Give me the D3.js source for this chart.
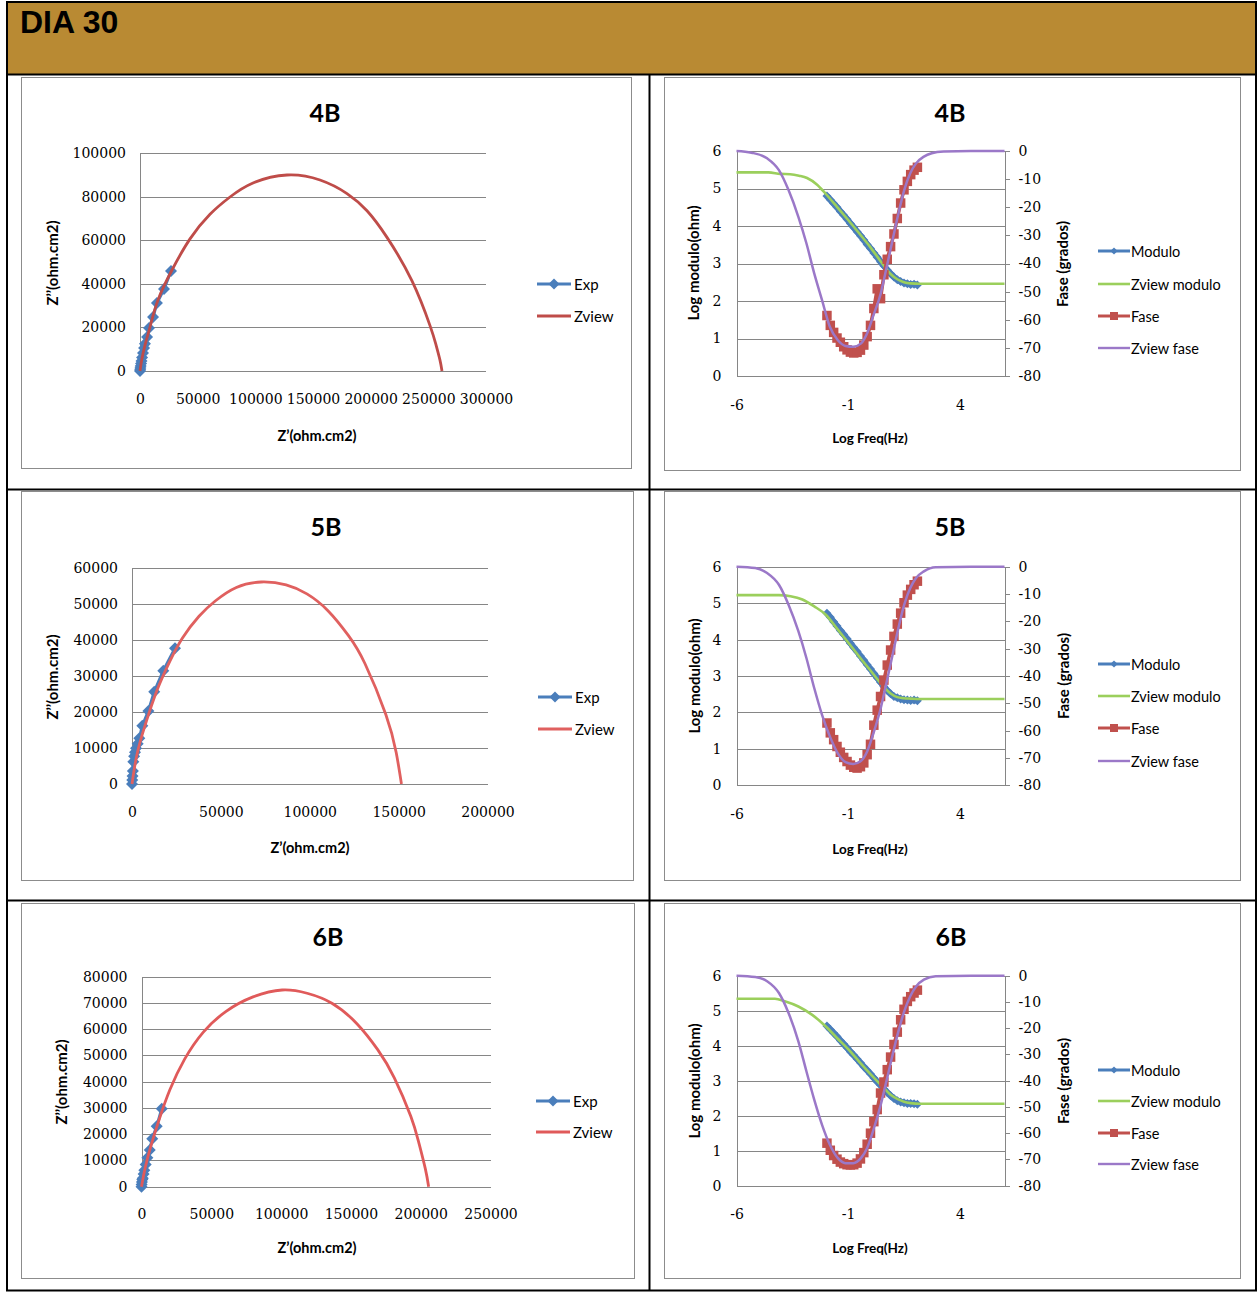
<!DOCTYPE html>
<html>
<head>
<meta charset="utf-8">
<script src="https://cdn.jsdelivr.net/npm/d3@7"></script>
<style>
  body { margin: 0; background: #fff; }
  svg text { fill: #000; }
</style>
</head>
<body>
<svg id="page" width="1258" height="1292"></svg>
<script>
// ---------------- data ----------------
const pageTitle = "DIA 30";
const panelTitles = ["4B", "5B", "6B"];
const nyqSeriesNames = ["Exp", "Zview"];
const bodeSeriesNames = ["Modulo", "Zview modulo", "Fase", "Zview fase"];

// Nyquist axis ticks
const yTicksZ4B = [0, 20000, 40000, 60000, 80000, 100000];
const xTicksZ4B = [0, 50000, 100000, 150000, 200000, 250000, 300000];
const yTicksZ5B = [0, 10000, 20000, 30000, 40000, 50000, 60000];
const xTicksZ5B = [0, 50000, 100000, 150000, 200000];
const yTicksZ6B = [0, 10000, 20000, 30000, 40000, 50000, 60000, 70000, 80000];
const xTicksZ6B = [0, 50000, 100000, 150000, 200000, 250000];

// Bode axis ticks
const modTicks = [0, 1, 2, 3, 4, 5, 6];
const faseTicks = [0, -10, -20, -30, -40, -50, -60, -70, -80];
const freqTicks = [-6, -1, 4];

// 4B – Nyquist (Z', Z'')
const z4B_expRe = [0, 150, 350, 600, 900, 1300, 1800, 2600, 3500, 4300, 6100, 7800, 11300, 14700, 20800, 26900];
const z4B_expIm = [0, 600, 1400, 2300, 3400, 4600, 6200, 8300, 10500, 12500, 15600, 19700, 24800, 31200, 37600, 45900];
const z4B_fitRe = [0, 1470, 4340, 8670, 15600, 27750, 43350, 60690, 78030, 97980, 127460, 156070, 179480, 196820, 214160, 235840, 251450, 256500, 260000, 261850];
const z4B_fitIm = [0, 5050, 11900, 20180, 32570, 46330, 60600, 71900, 79820, 86240, 89910, 87610, 81400, 73500, 61300, 41300, 20800, 12300, 5200, 0];

// 5B – Nyquist
const z5B_expRe = [0, 150, 300, 500, 740, 1200, 1700, 2250, 3200, 4100, 5800, 9200, 12500, 17600, 24200];
const z5B_expIm = [0, 1100, 2200, 3600, 6190, 7700, 8800, 9920, 11200, 12690, 16190, 20280, 25640, 31470, 37700];
const z5B_fitRe = [0, 2700, 7300, 14300, 21400, 28300, 37700, 47000, 58700, 72700, 86700, 98400, 110100, 121800, 131100, 142800, 148600, 151600];
const z5B_fitIm = [0, 8000, 16200, 26300, 34200, 40500, 46600, 50900, 54600, 56110, 55300, 52800, 48200, 41200, 33400, 19300, 8800, 0];

// 6B – Nyquist
const z6B_expRe = [0, 100, 300, 600, 900, 1500, 2000, 3000, 4200, 5900, 7700, 10900, 14500];
const z6B_expIm = [0, 800, 1800, 2700, 3200, 4800, 6300, 8500, 11000, 14000, 18300, 23000, 29700];
const z6B_fitRe = [0, 2600, 7000, 13000, 20400, 30800, 44300, 60600, 79900, 100700, 118600, 136400, 154300, 169200, 181100, 192900, 198500, 203300, 205700];
const z6B_fitIm = [0, 7120, 16000, 26170, 37000, 48500, 58900, 66800, 72300, 74930, 73700, 69900, 62100, 52200, 41500, 26800, 17100, 6900, 0];

// measured log frequencies (shared by the three samples)
const logFreqMeas = [-1.95, -1.8, -1.65, -1.5, -1.35, -1.2, -1.05, -0.9, -0.75, -0.6, -0.45, -0.3, -0.15, 0, 0.15, 0.3, 0.45, 0.6, 0.75, 0.9, 1.05, 1.2, 1.35, 1.5, 1.65, 1.8, 1.95, 2.1];

// 4B – Bode
const mod4B = [4.80, 4.70, 4.60, 4.50, 4.39, 4.29, 4.18, 4.07, 3.96, 3.85, 3.74, 3.63, 3.51, 3.40, 3.28, 3.17, 3.05, 2.94, 2.83, 2.73, 2.64, 2.57, 2.52, 2.48, 2.46, 2.44, 2.45, 2.43];
const fase4B = [-58.5, -62.0, -64.5, -66.5, -68.0, -69.6, -70.7, -71.5, -71.8, -71.6, -70.8, -69.0, -66.0, -62.0, -56.0, -49.0, -52.5, -44.0, -38.5, -34.0, -29.5, -24.0, -18.5, -13.8, -10.8, -8.4, -6.8, -5.8];
const zmodFreq4B = [-6, -5.5, -5, -4.57, -4.04, -3.6, -3.2, -2.84, -2.39, -2.01, -1.5, -1.0, -0.5, 0, 0.5, 0.9, 1.2, 1.5, 1.8, 2.2, 3, 4, 5, 6];
const zmod4B = [5.43, 5.43, 5.43, 5.43, 5.39, 5.38, 5.34, 5.28, 5.10, 4.86, 4.51, 4.16, 3.80, 3.43, 3.02, 2.72, 2.58, 2.50, 2.47, 2.46, 2.46, 2.46, 2.46, 2.46];
const zfaseFreq4B = [-6, -5.33, -4.63, -4.10, -3.67, -3.23, -2.87, -2.52, -2.17, -1.82, -1.47, -1.12, -0.77, -0.42, -0.15, 0.11, 0.46, 0.73, 0.99, 1.25, 1.51, 1.78, 2.04, 2.39, 2.74, 3.27, 4.5, 6];
const zfase4B = [0, -0.6, -2.6, -6.8, -13.9, -23.4, -32.8, -43.5, -53.0, -62.5, -67.2, -69.3, -69.6, -68.4, -64.8, -58.9, -50.6, -41.1, -31.6, -22.2, -13.9, -7.9, -4.4, -2.0, -0.8, -0.2, 0, 0];

// 5B – Bode
const mod5B = [4.72, 4.61, 4.49, 4.37, 4.25, 4.14, 4.02, 3.90, 3.78, 3.67, 3.55, 3.43, 3.31, 3.19, 3.07, 2.95, 2.83, 2.71, 2.60, 2.51, 2.44, 2.40, 2.37, 2.35, 2.34, 2.33, 2.34, 2.32];
const fase5B = [-57.2, -60.8, -63.3, -65.8, -67.9, -69.8, -71.3, -72.6, -73.4, -73.7, -73.2, -71.8, -68.8, -65.0, -58.0, -52.5, -47.5, -41.5, -36.0, -30.5, -25.5, -21.0, -17.0, -13.2, -10.4, -8.3, -6.6, -5.3];
const zmodFreq5B = [-6, -5, -4.1, -3.58, -3.05, -2.52, -2.0, -1.5, -1.0, -0.5, 0, 0.5, 0.9, 1.2, 1.5, 1.8, 2.2, 3, 4, 5, 6];
const zmod5B = [5.22, 5.22, 5.22, 5.19, 5.10, 4.91, 4.68, 4.30, 3.92, 3.53, 3.15, 2.77, 2.52, 2.42, 2.39, 2.38, 2.37, 2.37, 2.37, 2.37, 2.37];
const zfaseFreq5B = [-6, -5.16, -4.63, -4.10, -3.67, -3.23, -2.87, -2.52, -2.17, -1.82, -1.47, -1.12, -0.77, -0.42, -0.15, 0.11, 0.46, 0.73, 0.99, 1.25, 1.51, 1.78, 2.04, 2.39, 2.92, 4.5, 6];
const zfase5B = [0, -0.5, -2.3, -6.6, -13.9, -23.6, -33.4, -44.4, -54.2, -62.1, -68.2, -71.5, -72.2, -71.0, -67.6, -61.5, -51.7, -41.9, -32.2, -22.4, -13.9, -7.8, -4.1, -1.7, -0.2, 0, 0];

// 6B – Bode
const mod6B = [4.56, 4.46, 4.36, 4.26, 4.15, 4.05, 3.94, 3.83, 3.73, 3.62, 3.51, 3.40, 3.30, 3.19, 3.08, 2.97, 2.87, 2.76, 2.66, 2.57, 2.49, 2.43, 2.39, 2.37, 2.35, 2.35, 2.34, 2.33];
const fase6B = [-63.8, -66.5, -68.5, -69.9, -71.0, -71.6, -72.0, -72.1, -72.0, -71.4, -69.8, -67.4, -64.2, -60.0, -55.6, -51.0, -44.7, -40.5, -35.8, -31.0, -26.2, -21.5, -16.8, -12.8, -9.8, -8.0, -6.6, -5.5];
const zmodFreq6B = [-6, -5, -4.28, -3.84, -3.23, -2.61, -2.0, -1.5, -1.0, -0.5, 0, 0.5, 0.9, 1.2, 1.5, 1.8, 2.2, 3, 4, 5, 6];
const zmod6B = [5.34, 5.34, 5.34, 5.27, 5.12, 4.88, 4.55, 4.22, 3.90, 3.54, 3.19, 2.86, 2.60, 2.48, 2.40, 2.36, 2.34, 2.34, 2.34, 2.34, 2.34];
const zfaseFreq6B = [-6, -5.16, -4.63, -4.10, -3.67, -3.23, -2.87, -2.52, -2.17, -1.82, -1.47, -1.12, -0.77, -0.42, -0.15, 0.11, 0.46, 0.73, 0.99, 1.25, 1.51, 1.78, 2.04, 2.39, 2.92, 4.5, 6];
const zfase6B = [0, -0.5, -2.1, -6.6, -14.2, -25.0, -36.4, -47.2, -56.8, -64.4, -69.4, -71.4, -71.4, -69.4, -65.6, -59.3, -49.1, -39.6, -30.1, -21.2, -13.6, -7.8, -4.1, -1.5, -0.2, 0, 0];

// ---------------- styles ----------------
const C = {
  blue: "#4A7EBB",
  red: "#C0504D",
  green: "#9BCF5C",
  purple: "#9B78C8",
  grid: "#868686",
  frame: "#8C8C8C",
  header: "#B98A33"
};
const SANS = "Lato, 'Open Sans', sans-serif";
const SERIF = "'DejaVu Serif', 'Liberation Serif', serif";

const svg = d3.select("#page");
const zip = (a, b) => a.map((v, i) => [v, b[i]]);
const diamond = r => `M0,${-r}L${r},0L0,${r}L${-r},0Z`;
const square = s => `M${-s / 2},${-s / 2}h${s}v${s}h${-s}Z`;

// ---------------- page header ----------------
svg.append("rect").attr("x", 7).attr("y", 2).attr("width", 1249).attr("height", 72).attr("fill", C.header);
svg.append("text").attr("x", 20).attr("y", 33)
  .attr("font-family", "'Liberation Sans', Arial, sans-serif").attr("font-weight", "bold")
  .attr("font-size", 32).text(pageTitle);

// ---------------- helpers ----------------
function frame(f) {
  svg.append("rect")
    .attr("x", f[0] + 0.5).attr("y", f[1] + 0.5)
    .attr("width", f[2] - f[0]).attr("height", f[3] - f[1])
    .attr("fill", "#fff").attr("stroke", C.frame).attr("stroke-width", 1);
}
function label(x, y, txt, opts) {
  const t = svg.append("text").attr("x", x).attr("y", y).text(txt)
    .attr("font-family", opts.family || SANS)
    .attr("font-size", opts.size)
    .attr("font-weight", opts.weight || "normal")
    .attr("text-anchor", opts.anchor || "middle")
    .attr("dominant-baseline", "central");
  if (opts.rotate) t.attr("transform", `rotate(-90,${x},${y})`);
  return t;
}
function styleTicks(g, size) {
  g.selectAll("text").attr("font-family", SERIF).attr("font-size", size).attr("fill", "#000");
}

// ---------------- Nyquist panel ----------------
function nyquist(s) {
  frame(s.frame);
  const [l, t, r, b] = s.plot;
  const x = d3.scaleLinear().domain([0, s.xMax]).range([l, r]);
  const y = d3.scaleLinear().domain([0, s.yMax]).range([b, t]);
  const g = svg.append("g");

  // horizontal gridlines
  g.append("g").attr("transform", `translate(${l},0)`)
    .call(d3.axisLeft(y).tickValues(s.yTicks).tickSize(-(r - l)).tickFormat(""))
    .call(a => a.select(".domain").remove())
    .call(a => a.selectAll("line").attr("stroke", C.grid).attr("shape-rendering", "crispEdges"));

  // y axis
  g.append("g").attr("transform", `translate(${l},0)`)
    .call(d3.axisLeft(y).tickValues(s.yTicks).tickSize(0).tickSizeOuter(0).tickPadding(14).tickFormat(d => String(d)))
    .call(a => a.select(".domain").attr("stroke", C.grid).attr("shape-rendering", "crispEdges"))
    .call(a => styleTicks(a, 14));

  // x axis labels
  g.append("g").attr("transform", `translate(0,${b})`)
    .call(d3.axisBottom(x).tickValues(s.xTicks).tickSize(0).tickPadding(s.xPad).tickFormat(d => String(d)))
    .call(a => a.select(".domain").remove())
    .call(a => styleTicks(a, 14));

  // experimental points
  const expData = zip(s.expRe, s.expIm);
  g.append("path").datum(expData).attr("d", d3.line().x(d => x(d[0])).y(d => y(d[1])))
    .attr("fill", "none").attr("stroke", C.blue).attr("stroke-width", 3);
  g.selectAll(".exp").data(expData).join("path")
    .attr("transform", d => `translate(${x(d[0])},${y(d[1])})`)
    .attr("d", diamond(6)).attr("fill", C.blue);
  // fitted arc
  const fitLine = d3.line().x(d => x(d[0])).y(d => y(d[1])).curve(d3.curveNatural);
  g.append("path").datum(zip(s.fitRe, s.fitIm)).attr("d", fitLine)
    .attr("fill", "none").attr("stroke", s.fitColor).attr("stroke-width", 2.8);

  // titles
  label(s.titlePos[0], s.titlePos[1], s.title, { size: 25, weight: "bold" });
  label(s.xTitlePos[0], s.xTitlePos[1], "Z\u2019(ohm.cm2)", { size: 14.5, weight: "bold" });
  label(s.yTitlePos[0], s.yTitlePos[1], "Z\u2019\u2019(ohm.cm2)", { size: 15, weight: "bold", rotate: true });

  // legend
  const [lx, ly1, ly2] = s.legend;
  svg.append("line").attr("x1", lx).attr("x2", lx + 34).attr("y1", ly1).attr("y2", ly1)
    .attr("stroke", C.blue).attr("stroke-width", 3);
  svg.append("path").attr("transform", `translate(${lx + 17},${ly1})`).attr("d", diamond(5.5)).attr("fill", C.blue);
  label(lx + 37, ly1, nyqSeriesNames[0], { size: 15, anchor: "start" });
  svg.append("line").attr("x1", lx).attr("x2", lx + 34).attr("y1", ly2).attr("y2", ly2)
    .attr("stroke", s.fitColor).attr("stroke-width", 3);
  label(lx + 37, ly2, nyqSeriesNames[1], { size: 15, anchor: "start" });
}

// ---------------- Bode panel ----------------
function bode(s) {
  frame(s.frame);
  const [l, t, r, b] = s.plot;
  const x = d3.scaleLinear().domain([-6, 6]).range([l, r]);
  const yM = d3.scaleLinear().domain([0, 6]).range([b, t]);
  const yP = d3.scaleLinear().domain([-80, 0]).range([b, t]);
  const g = svg.append("g");

  g.append("g").attr("transform", `translate(${l},0)`)
    .call(d3.axisLeft(yM).tickValues(modTicks).tickSize(-(r - l)).tickFormat(""))
    .call(a => a.select(".domain").remove())
    .call(a => a.selectAll("line").attr("stroke", C.grid).attr("shape-rendering", "crispEdges"));

  g.append("g").attr("transform", `translate(${l},0)`)
    .call(d3.axisLeft(yM).tickValues(modTicks).tickSize(0).tickSizeOuter(0).tickPadding(15).tickFormat(d => String(d)))
    .call(a => a.select(".domain").attr("stroke", C.grid).attr("shape-rendering", "crispEdges"))
    .call(a => styleTicks(a, 14));

  g.append("g").attr("transform", `translate(${r},0)`)
    .call(d3.axisRight(yP).tickValues(faseTicks).tickSize(5).tickSizeOuter(0).tickPadding(9).tickFormat(d => String(d)))
    .call(a => a.select(".domain").attr("stroke", C.grid).attr("shape-rendering", "crispEdges"))
    .call(a => a.selectAll("line").attr("stroke", C.grid).attr("shape-rendering", "crispEdges"))
    .call(a => styleTicks(a, 14));

  g.append("g").attr("transform", `translate(0,${b})`)
    .call(d3.axisBottom(x).tickValues(freqTicks).tickSize(0).tickPadding(s.xPad).tickFormat(d => String(d)))
    .call(a => a.select(".domain").remove())
    .call(a => styleTicks(a, 14));

  const smooth = d3.curveMonotoneX;
  // Modulo (measured)
  const modData = zip(logFreqMeas, s.mod);
  g.append("path").datum(modData).attr("d", d3.line().x(d => x(d[0])).y(d => yM(d[1])))
    .attr("fill", "none").attr("stroke", C.blue).attr("stroke-width", 6);
  g.selectAll(".mod").data(modData).join("path")
    .attr("transform", d => `translate(${x(d[0])},${yM(d[1])})`)
    .attr("d", diamond(4.5)).attr("fill", C.blue);
  // Zview modulo
  g.append("path").datum(zip(s.zmodFreq, s.zmod))
    .attr("d", d3.line().x(d => x(d[0])).y(d => yM(d[1])).curve(smooth))
    .attr("fill", "none").attr("stroke", C.green).attr("stroke-width", 2.6);
  // Fase (measured)
  const faseData = zip(logFreqMeas, s.fase);
  g.append("path").datum(faseData).attr("d", d3.line().x(d => x(d[0])).y(d => yP(d[1])))
    .attr("fill", "none").attr("stroke", C.red).attr("stroke-width", 3.5);
  g.selectAll(".fase").data(faseData).join("path")
    .attr("transform", d => `translate(${x(d[0])},${yP(d[1])})`)
    .attr("d", square(9.5)).attr("fill", C.red);
  // Zview fase
  g.append("path").datum(zip(s.zfaseFreq, s.zfase))
    .attr("d", d3.line().x(d => x(d[0])).y(d => yP(d[1])).curve(smooth))
    .attr("fill", "none").attr("stroke", C.purple).attr("stroke-width", 2.5);

  label(s.titlePos[0], s.titlePos[1], s.title, { size: 25, weight: "bold" });
  label(s.xTitlePos[0], s.xTitlePos[1], "Log Freq(Hz)", { size: 13.5, weight: "bold" });
  label(s.yTitleL[0], s.yTitleL[1], "Log modulo(ohm)", { size: 15, weight: "bold", rotate: true });
  label(s.yTitleR[0], s.yTitleR[1], "Fase (grados)", { size: 15, weight: "bold", rotate: true });

  // legend
  const lx = 1098;
  const colors = [C.blue, C.green, C.red, C.purple];
  const widths = [3, 2.6, 3, 2.4];
  s.legendY.forEach((ly, i) => {
    svg.append("line").attr("x1", lx).attr("x2", lx + 32).attr("y1", ly).attr("y2", ly)
      .attr("stroke", colors[i]).attr("stroke-width", widths[i]);
    if (i === 0) svg.append("path").attr("transform", `translate(${lx + 16},${ly})`).attr("d", diamond(3.6)).attr("fill", C.blue);
    if (i === 2) svg.append("path").attr("transform", `translate(${lx + 16},${ly})`).attr("d", square(8)).attr("fill", C.red);
    label(lx + 33, ly, bodeSeriesNames[i], { size: 14.5, anchor: "start" });
  });
}

// ---------------- panels ----------------
nyquist({
  frame: [21, 77, 631, 468], plot: [140, 153, 486, 371],
  xMax: 300000, yMax: 100000, xTicks: xTicksZ4B, yTicks: yTicksZ4B, xPad: 23,
  expRe: z4B_expRe, expIm: z4B_expIm, fitRe: z4B_fitRe, fitIm: z4B_fitIm, fitColor: "#BF4C49",
  title: panelTitles[0], titlePos: [325, 112], xTitlePos: [317, 435], yTitlePos: [52, 263],
  legend: [537, 284, 316]
});
nyquist({
  frame: [21, 491, 633, 880], plot: [132, 568, 487.5, 784],
  xMax: 200000, yMax: 60000, xTicks: xTicksZ5B, yTicks: yTicksZ5B, xPad: 23,
  expRe: z5B_expRe, expIm: z5B_expIm, fitRe: z5B_fitRe, fitIm: z5B_fitIm, fitColor: "#E0605F",
  title: panelTitles[1], titlePos: [326, 526], xTitlePos: [310, 847], yTitlePos: [52, 677],
  legend: [538, 697, 729]
});
nyquist({
  frame: [21, 903, 634, 1278], plot: [141.5, 976.7, 490.5, 1186.7],
  xMax: 250000, yMax: 80000, xTicks: xTicksZ6B, yTicks: yTicksZ6B, xPad: 22,
  expRe: z6B_expRe, expIm: z6B_expIm, fitRe: z6B_fitRe, fitIm: z6B_fitIm, fitColor: "#E05A5A",
  title: panelTitles[2], titlePos: [328, 936], xTitlePos: [317, 1247], yTitlePos: [61, 1082],
  legend: [536, 1101, 1132]
});

bode({
  frame: [664, 77, 1240, 470], plot: [736.5, 151, 1004.5, 376], xPad: 24,
  mod: mod4B, fase: fase4B, zmodFreq: zmodFreq4B, zmod: zmod4B, zfaseFreq: zfaseFreq4B, zfase: zfase4B,
  title: panelTitles[0], titlePos: [950, 112], xTitlePos: [870, 438],
  yTitleL: [693, 263], yTitleR: [1062, 264], legendY: [251, 284, 316, 348]
});
bode({
  frame: [664, 491, 1240, 880], plot: [736.5, 566.7, 1004.5, 785.3], xPad: 24,
  mod: mod5B, fase: fase5B, zmodFreq: zmodFreq5B, zmod: zmod5B, zfaseFreq: zfaseFreq5B, zfase: zfase5B,
  title: panelTitles[1], titlePos: [950, 526], xTitlePos: [870, 849],
  yTitleL: [694, 676], yTitleR: [1063, 676], legendY: [664, 696, 728, 761]
});
bode({
  frame: [664, 903, 1240, 1278], plot: [736.5, 975.7, 1004.5, 1185.7], xPad: 23,
  mod: mod6B, fase: fase6B, zmodFreq: zmodFreq6B, zmod: zmod6B, zfaseFreq: zfaseFreq6B, zfase: zfase6B,
  title: panelTitles[2], titlePos: [951, 936], xTitlePos: [870, 1248],
  yTitleL: [694, 1081], yTitleR: [1063, 1081], legendY: [1070, 1101, 1133, 1164]
});

// ---------------- table rules ----------------
const rules = [
  [6, 2, 1257, 2], [6, 74.5, 1257, 74.5], [6, 489.5, 1257, 489.5], [6, 900.5, 1257, 900.5], [6, 1290.5, 1257, 1290.5],
  [7, 1, 7, 1291], [1256, 1, 1256, 1291], [649.5, 74, 649.5, 1291]
];
svg.selectAll(".rule").data(rules).join("line")
  .attr("x1", d => d[0]).attr("y1", d => d[1]).attr("x2", d => d[2]).attr("y2", d => d[3])
  .attr("stroke", "#000").attr("stroke-width", 2);
</script>
</body>
</html>
